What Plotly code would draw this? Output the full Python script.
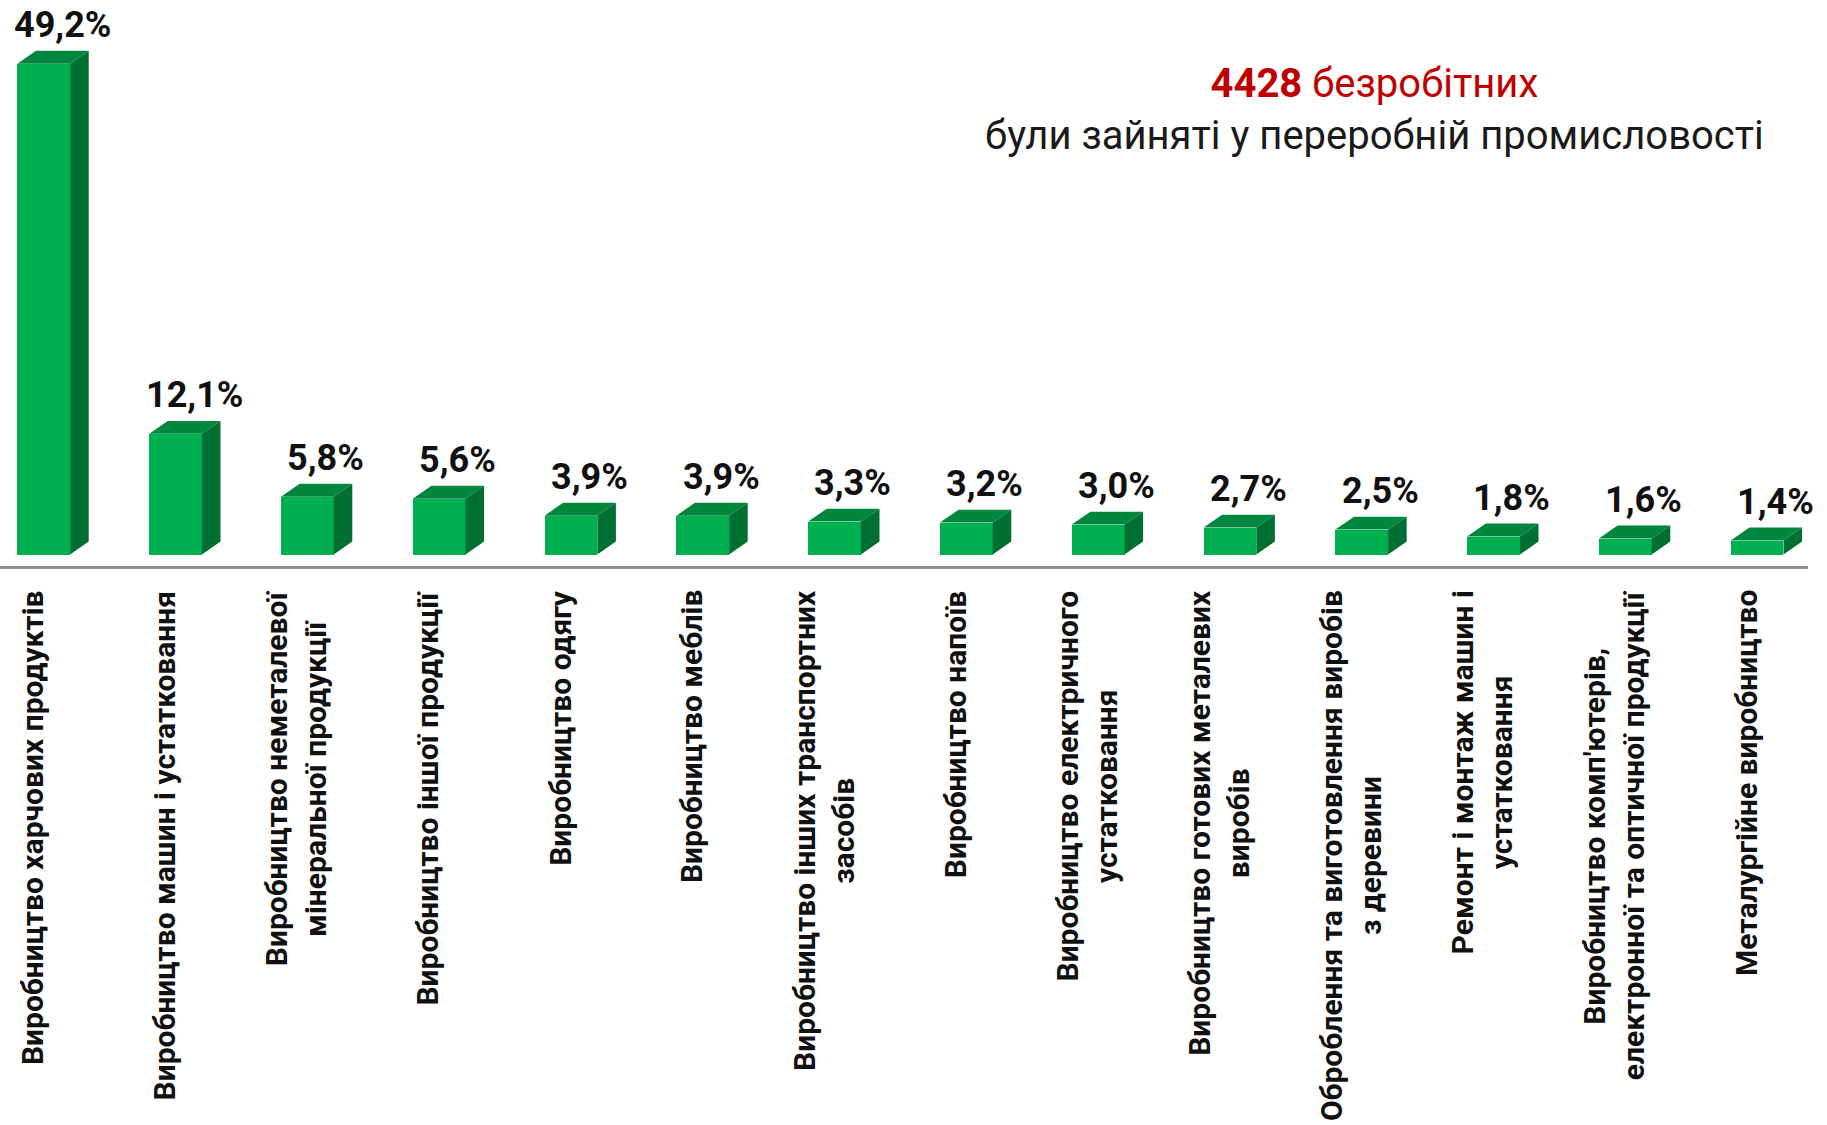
import plotly.graph_objects as go

# Categories (line breaks as in the original picture)
categories = [
    "Виробництво харчових продуктів",
    "Виробництво машин і устатковання",
    "Виробництво неметалевої<br>мінеральної продукції",
    "Виробництво іншої продукції",
    "Виробництво одягу",
    "Виробництво меблів",
    "Виробництво інших транспортних<br>засобів",
    "Виробництво напоїв",
    "Виробництво електричного<br>устатковання",
    "Виробництво готових металевих<br>виробів",
    "Оброблення та виготовлення виробів<br>з деревини",
    "Ремонт і монтаж машин і<br>устатковання",
    "Виробництво комп'ютерів,<br>електронної та оптичної продукції",
    "Металургійне виробництво",
]
shares = [49.2, 12.1, 5.8, 5.6, 3.9, 3.9, 3.3, 3.2, 3.0, 2.7, 2.5, 1.8, 1.6, 1.4]
total_unemployed = 4428

FRONT = "#00B050"
SIDE = "#006F32"
TOP = "#00873D"
FONT = "Roboto"

# fake 3d: depth offsets in data units
w = 0.40
dx = 0.141
dy = 1.3

xs = list(range(len(shares)))

side_x, side_y, top_x, top_y = [], [], [], []
for x, v in zip(xs, shares):
    r = x + w / 2
    l = x - w / 2
    side_x += [r, r + dx, r + dx, r, r, None]
    side_y += [0, dy, v + dy, v, 0, None]
    top_x += [l, r, r + dx, l + dx, l, None]
    top_y += [v, v, v + dy, v + dy, v, None]

fig = go.Figure()
fig.add_trace(go.Bar(x=xs, y=shares, width=w, marker=dict(color=FRONT, line=dict(width=0)),
                     hoverinfo="skip"))
fig.add_trace(go.Scatter(x=side_x, y=side_y, fill="toself", fillcolor=SIDE, mode="none",
                         hoverinfo="skip"))
fig.add_trace(go.Scatter(x=top_x, y=top_y, fill="toself", fillcolor=TOP, mode="none",
                         hoverinfo="skip"))

# value labels
for x, v in zip(xs, shares):
    fig.add_annotation(x=x + 0.14, y=v + dy, yanchor="bottom", yshift=3, showarrow=False,
                       text="<b>" + f"{v:.1f}".replace(".", ",") + "%</b>",
                       font=dict(family=FONT, size=36, color="#111111"))

# category labels under the axis
for x, c in zip(xs, categories):
    fig.add_annotation(x=x - 0.085, xref="x", y=-0.039, yref="paper", yanchor="top",
                       xanchor="center", textangle=-90, showarrow=False, align="center",
                       text="<b>" + c.replace("<br>", "</b><br><b>") + "</b>",
                       font=dict(family=FONT, size=30, color="#111111"))

fig.add_annotation(
    x=0.7605, y=0.806, xref="paper", yref="paper", xanchor="center", yanchor="middle",
    showarrow=False, align="center",
    text=(f'<span style="color:#C00000"><b>{total_unemployed}</b> безробітних</span>'
          '<br>були зайняті у переробній промисловості'),
    font=dict(family=FONT, size=40, color="#1a1a1a"),
)

fig.update_layout(
    width=1827, height=1125,
    margin=dict(l=0, r=19, t=0, b=559),
    plot_bgcolor="white", paper_bgcolor="white",
    showlegend=False,
    bargap=0,
)
fig.update_xaxes(range=[-0.332, 13.386], showticklabels=False, showgrid=False, zeroline=False,
                 showline=True, linecolor="#8c8c8c", linewidth=3, fixedrange=True)
fig.update_yaxes(range=[-1.15, 55.6], visible=False, fixedrange=True)

# drop the browser's default body margin so the chart sits at the page corner
fig.write_html("out.html", config={"displayModeBar": False},
               post_script="document.body.style.margin='0';")
